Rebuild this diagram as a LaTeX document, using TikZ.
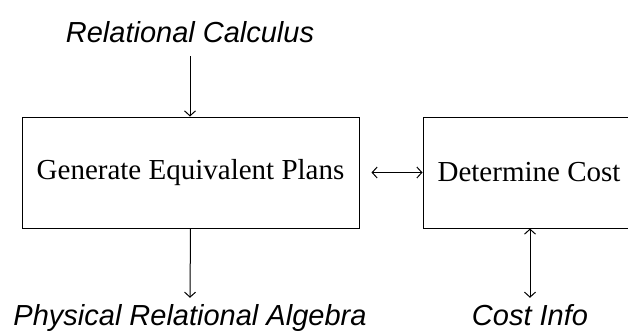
\documentclass[tikz,border=0pt]{standalone}
\usepackage{fontspec}
\setmainfont{Liberation Serif}
\setsansfont{Liberation Sans}
\usepackage{tikz}
\usetikzlibrary{arrows.meta, positioning}
\tikzset{
  planbox/.style={rectangle, draw=black, line width=1pt,
    minimum height=111pt, font=\fontsize{29}{34}\selectfont},
  ioname/.style={font=\sffamily\itshape\fontsize{29}{34}\selectfont},
  arrow/.style={-{Straight Barb[length=5pt,width=11pt]}, line width=1pt},
  dblarrow/.style={{Straight Barb[length=5pt,width=11pt]}-{Straight Barb[length=5pt,width=11pt]}, line width=1pt}
}
\begin{document}
\begin{tikzpicture}[x=1pt, y=-1pt]
  \useasboundingbox (0,0) rectangle (628,330);

  % Boxes
  \node[planbox, minimum width=337pt] (gen) at (190.5,172.5) {Generate Equivalent Plans};
  \node[planbox, minimum width=212pt] (cost) at (529,172.5) {Determine Cost};

  % Inputs and outputs
  \node[ioname, anchor=base, inner sep=14pt] (calc) at (190,42) {Relational Calculus};
  \node[ioname, anchor=base, inner sep=6pt] (phys) at (190,325) {Physical Relational Algebra};
  \node[ioname, anchor=base, inner sep=6pt] (info) at (530,325) {Cost Info};

  % Connectors
  \draw[arrow] (calc.south) -- (calc.south |- gen.north);
  \draw[arrow] (gen.south) -- (phys.north);
  \draw[dblarrow, shorten <=12pt] (gen.east) -- (cost.west);
  \draw[dblarrow] (cost.south -| info.north) -- (info.north);
\end{tikzpicture}
\end{document}
